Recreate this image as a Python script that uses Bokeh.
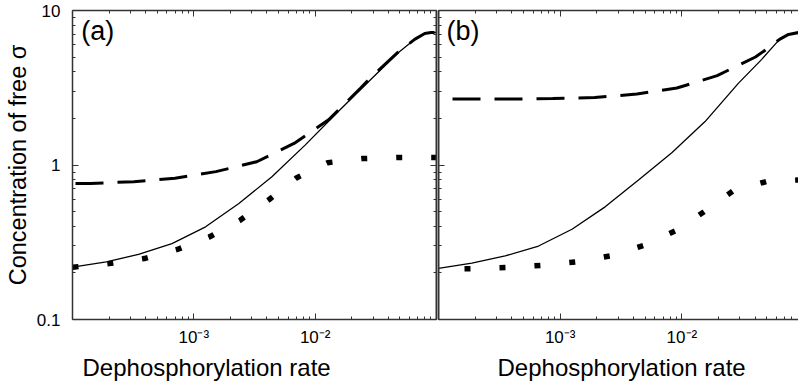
from bokeh.plotting import figure
from bokeh.models import Range1d, LogAxis, LogScale, FixedTicker, CustomJSTickFormatter, Label, Title
from bokeh.layouts import row
from bokeh.embed import file_html
from bokeh.resources import INLINE

FONT = "Liberation Sans"
AXIS_COLOR = "#333333"

# ---- tick definitions ----
y_major = [0.1, 1.0, 10.0]
y_minor = [k * 0.1 for k in range(2, 10)] + [float(k) for k in range(2, 10)]
x_major = [1e-3, 1e-2]
x_minor = [1e-4] + [k * 10.0 ** e for e in (-4, -3, -2) for k in range(2, 10)] + [1e-1]
x_tick_labels = ["10\u207b\u00b3", "10\u207b\u00b2"]
y_tick_labels = ["0.1", "1", "10"]

# ---- panel (a) data ----
a_solid_x = [1.0e-4, 1.9e-4, 3.5e-4, 6.6e-4, 1.25e-3, 2.35e-3, 4.4e-3, 8.3e-3, 0.0155, 0.029, 0.048, 0.066, 0.080, 0.090, 0.1]
a_solid_y = [0.218, 0.236, 0.264, 0.31, 0.398, 0.564, 0.839, 1.35, 2.22, 3.6, 5.31, 6.49, 7.1, 7.2, 7.22]

a_dash_x = [1.0e-4, 1.4e-4, 3.2e-4, 7.0e-4, 1.52e-3, 3.3e-3, 6.7e-3, 0.0129, 0.0237, 0.029, 0.048, 0.066, 0.080, 0.090, 0.1]
a_dash_y = [0.76, 0.76, 0.78, 0.82, 0.906, 1.05, 1.38, 1.96, 3.15, 3.7, 5.35, 6.5, 7.1, 7.2, 7.22]

a_dot_x = [1.0e-4, 2.0e-4, 3.9e-4, 7.3e-4, 1.34e-3, 2.42e-3, 4.18e-3, 7.06e-3, 0.0127, 0.0246, 0.0478, 0.0908, 0.1]
a_dot_y = [0.218, 0.23, 0.248, 0.284, 0.342, 0.44, 0.598, 0.828, 1.035, 1.10, 1.12, 1.12, 1.12]

# ---- panel (b) data ----
b_solid_x = [1.0e-4, 1.88e-4, 3.53e-4, 6.64e-4, 1.25e-3, 2.34e-3, 4.4e-3, 8.26e-3, 0.0155, 0.0292, 0.0451, 0.0634, 0.0752, 0.0908, 0.1]
b_solid_y = [0.214, 0.232, 0.258, 0.299, 0.384, 0.536, 0.80, 1.2, 1.91, 3.39, 4.81, 6.5, 7.0, 7.2, 7.2]

b_dash_x = [1.0e-4, 1.8e-4, 3.98e-4, 8.7e-4, 1.92e-3, 4.27e-3, 9.1e-3, 0.0195, 0.0402, 0.0494, 0.0634, 0.0752, 0.0908, 0.1]
b_dash_y = [2.67, 2.67, 2.67, 2.69, 2.73, 2.88, 3.15, 3.79, 5.0, 5.6, 6.5, 7.0, 7.2, 7.2]

b_dot_x = [1.0e-4, 1.84e-4, 3.6e-4, 6.98e-4, 1.34e-3, 2.57e-3, 4.83e-3, 8.79e-3, 0.0152, 0.0262, 0.0498, 0.0908, 0.1]
b_dot_y = [0.212, 0.213, 0.217, 0.224, 0.236, 0.258, 0.301, 0.374, 0.498, 0.678, 0.783, 0.80, 0.80]

x_label = "Dephosphorylation rate"
y_label = "Concentration of free \u03c3"

xfmt_code = "return tick < 0.005 ? '%s' : '%s';" % (x_tick_labels[0], x_tick_labels[1])
yfmt_code = "return tick < 0.5 ? '%s' : (tick < 5 ? '%s' : '%s');" % tuple(y_tick_labels)
empty_code = "return '';"


def make_axis(kind, code, standoff, line_width=1.5):
    if kind == "x":
        ticker = FixedTicker(ticks=x_major, minor_ticks=x_minor)
    else:
        ticker = FixedTicker(ticks=y_major, minor_ticks=y_minor)
    ax = LogAxis(ticker=ticker, formatter=CustomJSTickFormatter(code=code))
    ax.axis_line_color = AXIS_COLOR
    ax.axis_line_width = line_width
    ax.major_tick_line_color = AXIS_COLOR
    ax.minor_tick_line_color = AXIS_COLOR
    ax.major_tick_line_width = 1
    ax.minor_tick_line_width = 1
    ax.major_tick_in = 6
    ax.major_tick_out = 0
    ax.minor_tick_in = 3
    ax.minor_tick_out = 0
    ax.major_label_standoff = standoff
    ax.major_label_text_font = FONT
    ax.major_label_text_font_size = "17px"
    ax.major_label_text_color = "black"
    return ax


def make_panel(width, x_end, left_border, right_border, has_ylabels, has_right):
    p = figure(width=width, height=382, x_axis_type=None, y_axis_type=None,
               x_range=Range1d(1e-4, x_end), y_range=Range1d(0.1, 10),
               output_backend="svg", toolbar_location=None,
               min_border_left=left_border, min_border_right=right_border,
               min_border_top=10, min_border_bottom=63)
    p.x_scale = LogScale()
    p.y_scale = LogScale()
    p.xgrid.visible = False
    p.ygrid.visible = False
    p.outline_line_color = None
    p.background_fill_color = "white"
    p.border_fill_color = "white"

    bottom = make_axis("x", xfmt_code, 8)
    p.add_layout(bottom, "below")
    top = make_axis("x", empty_code, 0)
    p.add_layout(top, "above")
    left = make_axis("y", yfmt_code if has_ylabels else empty_code,
                     12 if has_ylabels else 0, 1.5 if has_ylabels else 2)
    if has_ylabels:
        left.axis_label = y_label
        left.axis_label_text_font = FONT
        left.axis_label_text_font_size = "23.5px"
        left.axis_label_text_font_style = "normal"
        left.axis_label_text_color = "black"
        left.axis_label_standoff = 3
    p.add_layout(left, "left")
    if has_right:
        right = make_axis("y", empty_code, 0, 2)
        p.add_layout(right, "right")
    return p


# x-range end of panel (b): the picture is cut off just before 10^-1
p1 = make_panel(437, 1e-1, 72, 1, True, True)
p2 = make_panel(361, 10 ** (-4 + 360 / 121.7), 1, 0, False, False)

t1 = Title(text=x_label, align="left", offset=10, text_font=FONT, text_font_size="24px",
           text_font_style="normal", text_color="black", standoff=4)
p1.add_layout(t1, "below")
t2 = Title(text=x_label, align="left", offset=59, text_font=FONT, text_font_size="24px",
           text_font_style="normal", text_color="black", standoff=4)
p2.add_layout(t2, "below")


def draw(p, sx, sy, dx, dy, tx, ty, dash_off, dot_off):
    p.line(sx, sy, line_color="black", line_width=1.3)
    p.line(dx, dy, line_color="black", line_width=3, line_dash="28 14",
           line_dash_offset=dash_off, line_cap="butt")
    p.line(tx, ty, line_color="black", line_width=5.5, line_dash="6 29",
           line_dash_offset=dot_off, line_cap="butt")


draw(p1, a_solid_x, a_solid_y, a_dash_x, a_dash_y, a_dot_x, a_dot_y, 39, 0)
draw(p2, b_solid_x, b_solid_y, b_dash_x, b_dash_y, b_dot_x, b_dot_y, 28, 9)

p1.add_layout(Label(x=1.18e-4, y=7.4, text="(a)", text_font=FONT, text_font_size="27px",
                    text_baseline="alphabetic", text_align="left", text_color="black"))
p2.add_layout(Label(x=1.165e-4, y=7.4, text="(b)", text_font=FONT, text_font_size="27px",
                    text_baseline="alphabetic", text_align="left", text_color="black"))

layout = row(p1, p2, spacing=0)
with open("out.html", "w", encoding="utf-8") as f:
    f.write(file_html(layout, INLINE))
